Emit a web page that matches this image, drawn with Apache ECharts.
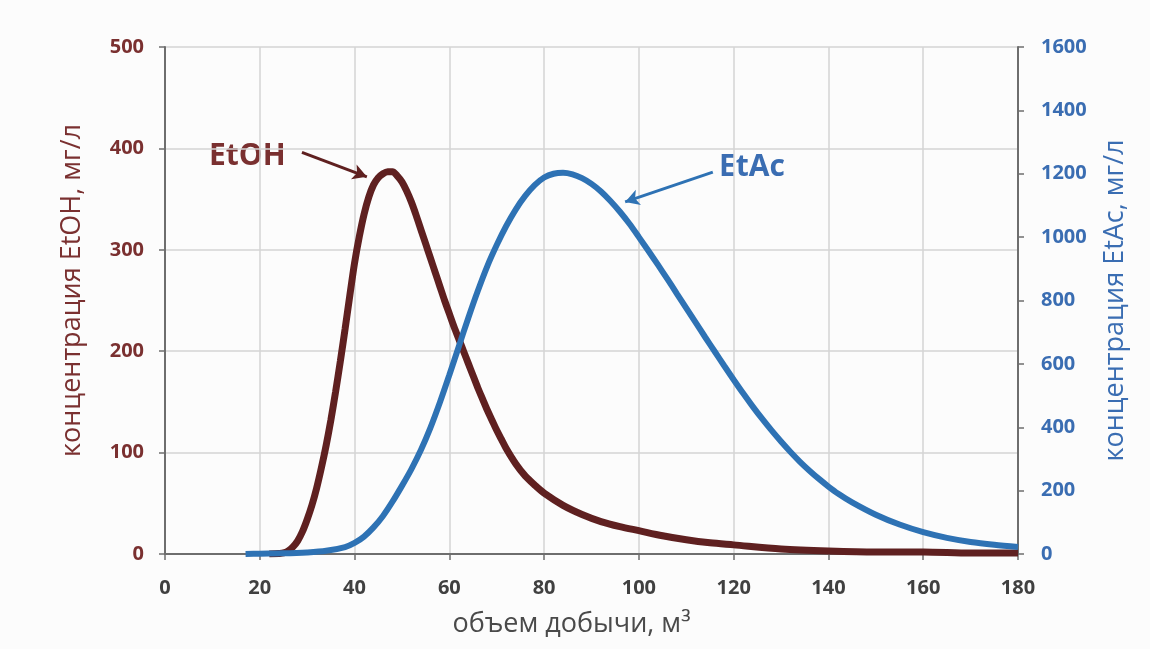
<!DOCTYPE html>
<html>
<head>
<meta charset="utf-8">
<script src="https://cdn.jsdelivr.net/npm/echarts@6/dist/echarts.min.js"></script>
<style>
  html, body { margin: 0; padding: 0; background: #fcfcfc; }
  #chart { width: 1150px; height: 649px; }
</style>
</head>
<body>
<div id="chart"></div>
<script>
// объем добычи (м3) и концентрации
const etohVolume = [22, 24, 25, 26, 27, 28, 29, 30, 31, 32, 33, 34, 35, 36, 37, 38, 39, 40, 41, 42, 43, 44, 45, 46, 47, 48, 49, 50, 51, 52, 53, 54, 55, 56, 57, 58, 59, 60, 61, 62, 63, 64, 65, 66, 67, 68, 69, 70, 71, 72, 74, 76, 78, 80, 84, 88, 92, 96, 100, 105, 110, 115, 120, 130, 140, 150, 160, 170, 180];
const etohValues = [0, 0.5, 1, 3, 7, 13, 22, 34, 48, 65, 85, 107, 132, 160, 190, 222, 255, 287, 313, 335, 352, 364, 371, 375, 377, 377, 373, 367, 358, 347, 334, 320, 306, 292, 278, 264, 250, 237, 224, 212, 200, 188, 176, 164, 153, 142, 132, 122, 113, 104, 89, 77, 68, 60, 48, 39, 32, 27, 23, 18, 14, 11, 9, 5, 3, 2, 2, 1, 1];

const etacVolume = [17, 20, 25, 30, 34, 38, 40, 42, 44, 46, 48, 50, 52, 54, 56, 58, 60, 62, 64, 66, 68, 70, 72, 74, 76, 78, 80, 82, 84, 86, 88, 90, 92, 94, 96, 98, 100, 102, 104, 106, 108, 110, 112, 114, 116, 118, 120, 122, 124, 126, 128, 130, 132, 134, 136, 138, 140, 142, 145, 150, 155, 160, 165, 170, 175, 180];
const etacValues = [0, 1, 2, 5, 10, 22, 35, 55, 84, 120, 165, 215, 268, 328, 398, 478, 565, 655, 745, 830, 908, 975, 1035, 1087, 1130, 1164, 1188, 1200, 1203, 1198, 1186, 1168, 1144, 1114, 1080, 1042, 1000, 957, 913, 868, 822, 776, 730, 684, 639, 594, 550, 507, 466, 427, 390, 355, 322, 291, 263, 237, 213, 191, 163, 124, 93, 69, 51, 38, 29, 22];

const xTicks = { min: 0, max: 180, step: 20 };
const leftTicks = { min: 0, max: 500, step: 100 };
const rightTicks = { min: 0, max: 1600, step: 200 };

const brown = '#5f2020';
const brownText = '#7a3030';
const blue = '#2e72b4';
const blueText = '#3a6db2';
const font = '"Open Sans", "Noto Sans", sans-serif';

const chart = echarts.init(document.getElementById('chart'));

chart.setOption({
    animation: false,
    backgroundColor: '#fcfcfc',
    grid: { left: 165, right: 132, top: 47, bottom: 95 },
    // подписи кривых
    graphic: [
        {
            type: 'text', left: 209, top: 141,
            style: { text: 'EtOH', fill: brownText, font: 'bold 30px ' + font }
        },
        {
            type: 'text', left: 719, top: 152,
            style: { text: 'EtAc', fill: blueText, font: 'bold 30px ' + font }
        }
    ],
    xAxis: {
        type: 'value',
        min: xTicks.min,
        max: xTicks.max,
        interval: xTicks.step,
        name: 'объем добычи, м³',
        nameLocation: 'middle',
        nameGap: 57,
        nameTextStyle: { color: '#4a4a4a', fontSize: 27, fontFamily: font, padding: [0, 40, 0, 0] },
        axisLine: { lineStyle: { color: '#6e6e6e', width: 2 } },
        axisTick: { show: true, length: 6, lineStyle: { color: '#6e6e6e', width: 1.5 } },
        axisLabel: { color: '#404040', fontSize: 20, fontWeight: 'bold', fontFamily: font, margin: 24 },
        splitLine: { show: true, lineStyle: { color: '#d4d4d4', width: 1.5 } }
    },
    yAxis: [
        {
            type: 'value',
            min: leftTicks.min,
            max: leftTicks.max,
            interval: leftTicks.step,
            name: 'концентрация EtOH, мг/л',
            nameLocation: 'middle',
            nameRotate: 90,
            nameGap: 79,
            nameTextStyle: { color: brownText, fontSize: 27, fontFamily: font, padding: [0, 0, 0, 20] },
            axisLine: { show: true, lineStyle: { color: '#6e6e6e', width: 2 } },
            axisTick: { show: true, length: 6, lineStyle: { color: '#6e6e6e', width: 1.5 } },
            axisLabel: { color: brownText, fontSize: 20, fontWeight: 'bold', fontFamily: font, margin: 21 },
            splitLine: { show: true, lineStyle: { color: '#d4d4d4', width: 1.5 } }
        },
        {
            type: 'value',
            position: 'right',
            min: rightTicks.min,
            max: rightTicks.max,
            interval: rightTicks.step,
            name: 'концентрация EtAc, мг/л',
            nameLocation: 'middle',
            nameRotate: 90,
            nameGap: 84,
            nameTextStyle: { color: blueText, fontSize: 27, fontFamily: font },
            axisLine: { show: true, lineStyle: { color: '#6e6e6e', width: 2 } },
            axisTick: { show: true, length: 6, lineStyle: { color: '#6e6e6e', width: 1.5 } },
            axisLabel: {
                color: blueText, fontSize: 20, fontWeight: 'bold', fontFamily: font, margin: 23,
                formatter: v => String(v)
            },
            splitLine: { show: false }
        }
    ],
    series: [
        {
            name: 'EtOH',
            type: 'line',
            yAxisIndex: 0,
            smooth: 0.3,
            showSymbol: false,
            lineStyle: { color: brown, width: 7 },
            data: etohVolume.map((v, i) => [v, etohValues[i]]),
            markLine: {
                silent: true,
                symbol: ['none', 'arrow'],
                symbolSize: [12, 14],
                lineStyle: { color: brown, width: 3, type: 'solid' },
                label: { show: false },
                data: [[{ coord: [28.9, 396] }, { coord: [42.6, 372] }]]
            }
        },
        {
            name: 'EtAc',
            type: 'line',
            yAxisIndex: 1,
            smooth: 0.3,
            showSymbol: false,
            lineStyle: { color: blue, width: 6 },
            data: etacVolume.map((v, i) => [v, etacValues[i]]),
            markLine: {
                silent: true,
                symbol: ['none', 'arrow'],
                symbolSize: [12, 14],
                lineStyle: { color: blue, width: 3, type: 'solid' },
                label: { show: false },
                data: [[{ coord: [115.6, 1205] }, { coord: [97.1, 1111] }]]
            }
        }
    ]
});
</script>
</body>
</html>
